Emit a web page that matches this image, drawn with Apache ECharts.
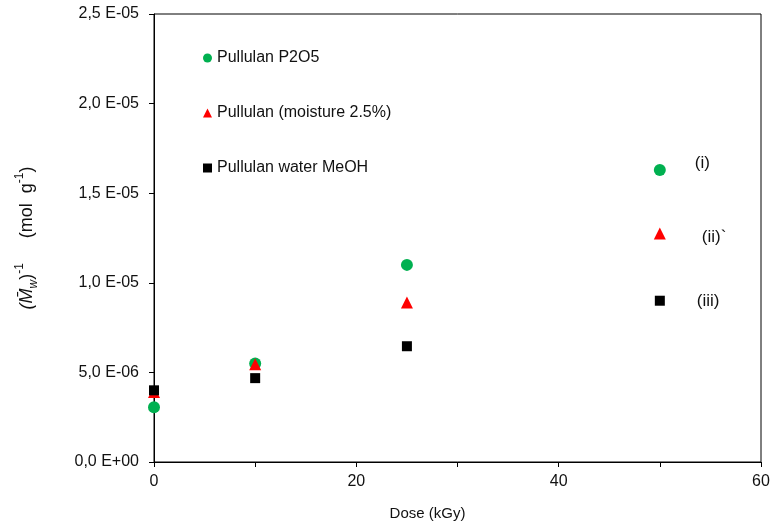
<!DOCTYPE html>
<html><head><meta charset="utf-8">
<script src="https://cdn.jsdelivr.net/npm/echarts@6/dist/echarts.min.js"></script>
<style>html,body{margin:0;padding:0;background:#fff}#c{width:774px;height:526px}</style>
</head><body><div id="c"></div>
<script>
const dose = [0, 10, 25, 50];
const p2o5 = [3.06e-6, 5.5e-6, 11.0e-6, 16.3e-6];
const moisture = [3.9e-6, 5.45e-6, 8.9e-6, 12.75e-6];
const waterMeOH = [4.0e-6, 4.68e-6, 6.46e-6, 9.0e-6];
const seriesNames = ['Pullulan P2O5', 'Pullulan (moisture 2.5%)', 'Pullulan water MeOH'];
const tags = ['(i)', '(ii)`', '(iii)'];
const yTicks = [0, 5e-6, 1e-5, 1.5e-5, 2e-5, 2.5e-5];
const xTicks = [0, 20, 40, 60];

function fmtY(v) {
  if (v === 0) return '0,0 E+00';
  const e = Math.floor(Math.log10(Math.abs(v)) + 1e-9);
  const m = v / Math.pow(10, e);
  const es = (e < 0 ? '-' : '+') + String(Math.abs(e)).padStart(2, '0');
  return m.toFixed(1).replace('.', ',') + ' E' + es;
}
const font = 'Liberation Sans, Arial, sans-serif';
function mk(name, vals, symbol, size, color, tag, off) {
  return {
    name, type: 'scatter', symbol, symbolSize: size,
    itemStyle: { color, opacity: 1 },
    data: dose.map((d, i) => {
      const o = { value: [d, vals[i]] };
      if (i === dose.length - 1) {
        o.label = { show: true, position: 'right', distance: off[0], offset: [0, off[1]], formatter: tag,
          color: '#111', fontSize: 17, fontFamily: font };
      }
      return o;
    })
  };
}
const chart = echarts.init(document.getElementById('c'));
chart.setOption({
  animation: false,
  textStyle: { fontFamily: font },
  grid: { left: 154, right: 13, top: 14, bottom: 63, show: true, borderColor: '#000', borderWidth: 1 },
  legend: {
    orient: 'vertical', left: 198, top: 45, itemGap: 39, itemWidth: 9, itemHeight: 9,
    textStyle: { fontSize: 16, color: '#111', fontFamily: font },
    data: [
      { name: seriesNames[0], icon: 'circle' },
      { name: seriesNames[1], icon: 'triangle' },
      { name: seriesNames[2], icon: 'rect' }
    ]
  },
  xAxis: {
    type: 'value', min: 0, max: 60, interval: 10,
    name: 'Dose (kGy)', nameLocation: 'middle', nameGap: 44,
    nameTextStyle: { fontSize: 15, color: '#111', padding: [0, 60, 0, 0] },
    axisLine: { lineStyle: { color: '#000' } },
    axisTick: { length: 5, lineStyle: { color: '#000' } },
    splitLine: { show: false },
    axisLabel: { fontSize: 16, color: '#111', margin: 12,
      formatter: v => xTicks.indexOf(v) >= 0 ? String(v) : '' }
  },
  yAxis: {
    type: 'value', min: 0, max: 2.5e-5, interval: 5e-6,
    axisLine: { show: true, lineStyle: { color: '#000' } },
    axisTick: { show: true, length: 5, lineStyle: { color: '#000' } },
    splitLine: { show: false },
    axisLabel: { fontSize: 16, color: '#111', margin: 15,
      formatter: v => fmtY(yTicks.find(t => Math.abs(t - v) < 1e-12) ?? v) }
  },
  graphic: [{
    type: 'text', x: 27, y: 238, rotation: Math.PI / 2,
    style: {
      text: '{i|(M\u0304}{sub|w}{n|)}{sup|-1}{n|     (mol  g}{sup|-1}{n|)}',
      textAlign: 'center', textVerticalAlign: 'middle',
      rich: {
        n: { fontSize: 18, fill: '#111', fontFamily: font, lineHeight: 26, verticalAlign: 'middle' },
        i: { fontSize: 18, fill: '#111', fontFamily: font, fontStyle: 'italic', lineHeight: 26, verticalAlign: 'middle' },
        sub: { fontSize: 12, fill: '#111', fontFamily: font, fontStyle: 'italic', verticalAlign: 'bottom', lineHeight: 26 },
        sup: { fontSize: 12, fill: '#111', fontFamily: font, verticalAlign: 'top', lineHeight: 26 }
      }
    }
  }],
  series: [
    mk(seriesNames[0], p2o5, 'circle', 12, '#00b050', tags[0], [29, -7]),
    mk(seriesNames[1], moisture, 'triangle', 12, '#ff0000', tags[1], [36, 4]),
    mk(seriesNames[2], waterMeOH, 'rect', 10, '#000000', tags[2], [32, 1])
  ]
});
</script></body></html>
